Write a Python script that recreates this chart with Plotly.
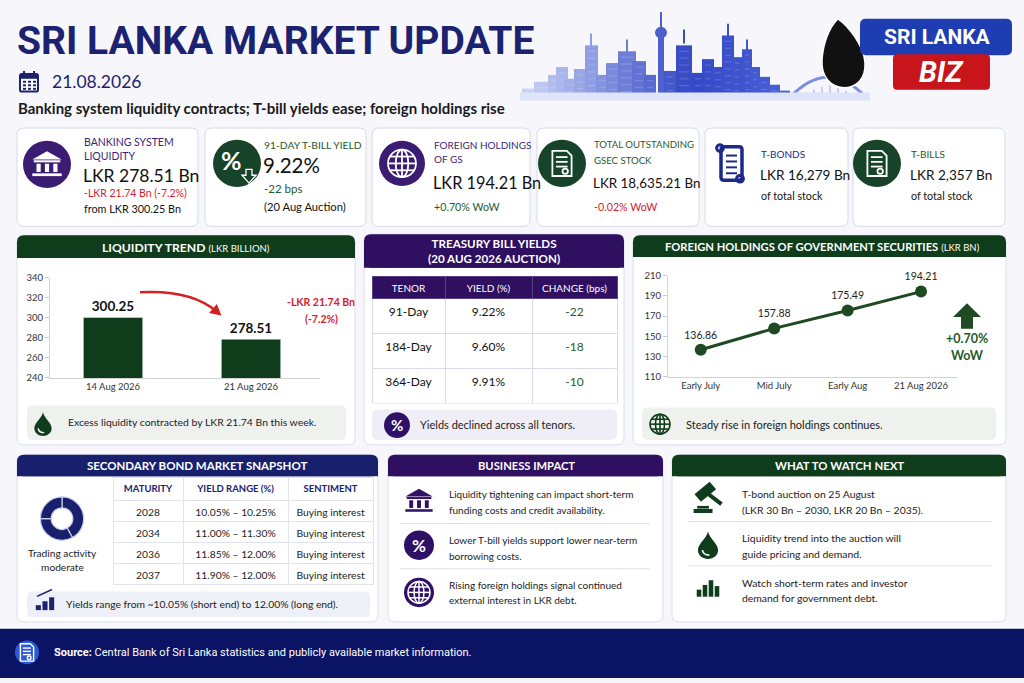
import math
import plotly.graph_objects as go

W, H = 1024, 683

# ---- data ----
liq_dates = ['14 Aug 2026', '21 Aug 2026']
liq_values = [300.25, 278.51]

tenors = ['91-Day', '184-Day', '364-Day']
tbill_yields = ['9.22%', '9.60%', '9.91%']
tbill_change = ['-22', '-18', '-10']

fh_periods = ['Early July', 'Mid July', 'Early Aug', '21 Aug 2026']
fh_values = [136.86, 157.88, 175.49, 194.21]

bond_maturity = ['2028', '2034', '2036', '2037']
bond_range = ['10.05% – 10.25%', '11.00% – 11.30%', '11.85% – 12.00%', '11.90% – 12.00%']
bond_sentiment = ['Buying interest', 'Buying interest', 'Buying interest', 'Buying interest']
activity_split = [42, 33, 25]

NAVY = '#1b2270'
PURPLE = '#2e0f60'
GREEN = '#0f3d1c'
LGREEN = '#1f5a2a'
RED = '#d3222a'
BODY = "Lato, 'Open Sans', sans-serif"
HEAD = "Roboto, Lato, sans-serif"
NB = '\u00a0'   # keeps table cells on one line


def X(px):
    return px / W


def Y(py):
    return 1 - py / H


shapes = []
ann = []
NONE = 'rgba(0,0,0,0)'


def box(x0, y0, x1, y1, fill, line=None, lw=0, r=0):
    if r == 0:
        shapes.append(dict(type='rect', xref='paper', yref='paper', x0=X(x0), x1=X(x1),
                           y0=Y(y1), y1=Y(y0), fillcolor=fill or NONE,
                           line=dict(color=line or NONE, width=lw), layer='below'))
        return
    p = lambda x, y: f'{X(x):.5f},{Y(y):.5f}'
    d = (f'M{p(x0 + r, y0)} L{p(x1 - r, y0)} Q{p(x1, y0)} {p(x1, y0 + r)} '
         f'L{p(x1, y1 - r)} Q{p(x1, y1)} {p(x1 - r, y1)} L{p(x0 + r, y1)} '
         f'Q{p(x0, y1)} {p(x0, y1 - r)} L{p(x0, y0 + r)} Q{p(x0, y0)} {p(x0 + r, y0)} Z')
    shapes.append(dict(type='path', xref='paper', yref='paper', path=d, fillcolor=fill or NONE,
                       line=dict(color=line or NONE, width=lw), layer='below'))


def path(cmds, fill=None, line=None, lw=0, close=True):
    d = ''
    for c, pts in cmds:
        d += c + ' '.join(f'{X(x):.5f},{Y(y):.5f}' for x, y in pts) + ' '
    if close:
        d += 'Z'
    shapes.append(dict(type='path', xref='paper', yref='paper', path=d, fillcolor=fill or NONE,
                       line=dict(color=line or NONE, width=lw), layer='below'))


def poly(pts, fill=None, line=None, lw=0, close=True):
    path([('M', [pts[0]])] + [('L', [q]) for q in pts[1:]], fill, line, lw, close)


def dot(cx, cy, r, fill=None, line=None, lw=0, ry=None):
    ry = ry or r
    shapes.append(dict(type='circle', xref='paper', yref='paper', x0=X(cx - r), x1=X(cx + r),
                       y0=Y(cy + ry), y1=Y(cy - ry), fillcolor=fill or NONE,
                       line=dict(color=line or NONE, width=lw), layer='below'))


def seg(x0, y0, x1, y1, color, w=1):
    shapes.append(dict(type='line', xref='paper', yref='paper', x0=X(x0), x1=X(x1),
                       y0=Y(y0), y1=Y(y1), line=dict(color=color, width=w), layer='below'))


def txt(x, y, s, size=12, color='#111', anchor='left', family=BODY):
    ann.append(dict(x=X(x), y=Y(y), xref='paper', yref='paper', text=s, showarrow=False,
                    xanchor=anchor, yanchor='middle', borderpad=0,
                    font=dict(size=size, color=color, family=family)))


# ---- icons ----
def bank(cx, cy, s, c):
    poly([(cx - 1.05 * s, cy - 0.35 * s), (cx, cy - 0.95 * s), (cx + 1.05 * s, cy - 0.35 * s)], c)
    box(cx - 0.95 * s, cy - 0.3 * s, cx + 0.95 * s, cy - 0.15 * s, c)
    for dx in (-0.6, 0, 0.6):
        box(cx + dx * s - 0.15 * s, cy - 0.05 * s, cx + dx * s + 0.15 * s, cy + 0.55 * s, c)
    box(cx - 1.05 * s, cy + 0.65 * s, cx + 1.05 * s, cy + 0.85 * s, c)


def globe(cx, cy, r, c, lw=1.6):
    dot(cx, cy, r, None, c, lw)
    dot(cx, cy, 0.45 * r, None, c, lw, ry=r)
    seg(cx - r, cy, cx + r, cy, c, lw)
    seg(cx, cy - r, cx, cy + r, c, lw)
    seg(cx - 0.86 * r, cy - 0.5 * r, cx + 0.86 * r, cy - 0.5 * r, c, lw)
    seg(cx - 0.86 * r, cy + 0.5 * r, cx + 0.86 * r, cy + 0.5 * r, c, lw)


def doc(cx, cy, s, c, lw=1.8):
    poly([(cx - 0.6 * s, cy - 0.8 * s), (cx + 0.3 * s, cy - 0.8 * s), (cx + 0.6 * s, cy - 0.5 * s),
          (cx + 0.6 * s, cy + 0.8 * s), (cx - 0.6 * s, cy + 0.8 * s)], None, c, lw)
    for dy in (-0.4, -0.1, 0.2):
        seg(cx - 0.38 * s, cy + dy * s, cx + 0.35 * s, cy + dy * s, c, lw)
    dot(cx + 0.2 * s, cy + 0.5 * s, 0.17 * s, None, c, lw)


def scroll(cx, cy, s, c):
    box(cx - 0.5 * s, cy - 0.85 * s, cx + 0.55 * s, cy + 0.85 * s, None, c, 3.5, r=3)
    dot(cx - 0.55 * s, cy - 0.78 * s, 0.17 * s, None, c, 3)
    dot(cx + 0.45 * s, cy + 0.78 * s, 0.17 * s, None, c, 3)
    for dy in (-0.4, -0.1, 0.2, 0.5):
        seg(cx - 0.25 * s, cy + dy * s, cx + 0.3 * s, cy + dy * s, c, 2)


def drop(cx, cy, s, c):
    path([('M', [(cx, cy - s)]),
          ('C', [(cx + 0.1 * s, cy - 0.5 * s), (cx + 0.72 * s, cy - 0.1 * s), (cx + 0.72 * s, cy + 0.35 * s)]),
          ('C', [(cx + 0.72 * s, cy + 0.75 * s), (cx + 0.38 * s, cy + s), (cx, cy + s)]),
          ('C', [(cx - 0.38 * s, cy + s), (cx - 0.72 * s, cy + 0.75 * s), (cx - 0.72 * s, cy + 0.35 * s)]),
          ('C', [(cx - 0.72 * s, cy - 0.1 * s), (cx - 0.1 * s, cy - 0.5 * s), (cx, cy - s)])], c)
    path([('M', [(cx - 0.4 * s, cy + 0.35 * s)]),
          ('Q', [(cx - 0.35 * s, cy + 0.72 * s), (cx + 0.1 * s, cy + 0.72 * s)])],
         None, 'white', max(1.2, s * 0.12), close=False)


def pct_badge(cx, cy, r, fill, size):
    dot(cx, cy, r, fill)
    txt(cx, cy, '<b>%</b>', size, 'white', 'center')


def bars_icon(cx, cy, s, c, hs=(0.5, 0.8, 1.2, 0.8)):
    n = len(hs)
    w = 2 * s / n
    for i, h in enumerate(hs):
        x0 = cx - s + i * w
        box(x0 + 0.12 * w, cy + 0.7 * s - h * s, x0 + w - 0.12 * w, cy + 0.7 * s, c)


def gavel(cx, cy, s, c):
    a = math.radians(-40)
    hx, hy = cx - 0.15 * s, cy - 0.35 * s
    L, T = 0.55 * s, 0.28 * s
    ux, uy = math.cos(a), math.sin(a)
    vx, vy = -uy, ux
    pts = [(hx + ux * L * sx + vx * T * sy, hy + uy * L * sx + vy * T * sy)
           for sx, sy in ((-1, -1), (1, -1), (1, 1), (-1, 1))]
    poly(pts, c)
    seg(hx, hy, cx + 0.75 * s, cy + 0.35 * s, c, 4)
    box(cx - 0.8 * s, cy + 0.62 * s, cx + 0.25 * s, cy + 0.85 * s, c)
    box(cx - 0.6 * s, cy + 0.45 * s, cx + 0.05 * s, cy + 0.6 * s, c)


def panel(x0, y0, x1, y1, hy, hc):
    box(x0, y0, x1, y1, 'white', '#dcdfeb', 1, r=7)
    box(x0, y0, x1, hy, hc, r=7)
    box(x0, y0 + 8, x1, hy, hc)


# ---- header ----
txt(16, 36, '<b>SRI LANKA MARKET UPDATE</b>', 39, NAVY, family=HEAD)
box(20, 69, 38, 87, 'white', NAVY, 2, r=2)
box(20, 69, 38, 74, NAVY)
for i in range(3):
    for j in range(3):
        box(23 + i * 5, 76 + j * 3.6, 26 + i * 5, 78 + j * 3.6, NAVY)
seg(24, 66, 24, 71, NAVY, 2)
seg(34, 66, 34, 71, NAVY, 2)
txt(51, 77, '21.08.2026', 17.5, NAVY)
txt(17, 104, '<b>Banking system liquidity contracts; T-bill yields ease; foreign holdings rise</b>', 15, '#1a1a1a')


def blend(c1, c2, t):
    a = [int(c1[i:i + 2], 16) for i in (1, 3, 5)]
    b = [int(c2[i:i + 2], 16) for i in (1, 3, 5)]
    return '#' + ''.join(f'{round(a[k] + (b[k] - a[k]) * t):02x}' for k in range(3))


def sky_col(x):
    if x < 690:
        return blend('#d3dbf7', '#3247c4', max(0, (x - 520) / 170))
    if x < 790:
        return blend('#3247c4', '#4a62d8', (x - 690) / 100)
    return blend('#4a62d8', '#c3cef5', min(1, (x - 790) / 70))


buildings = [(522, 540, 84), (534, 552, 77), (548, 562, 70), (556, 568, 62), (564, 578, 74),
             (574, 586, 64), (585, 598, 40), (596, 610, 70), (606, 620, 58), (618, 636, 46),
             (632, 646, 56), (644, 656, 70), (664, 676, 66), (676, 692, 40), (692, 704, 68),
             (702, 714, 54), (712, 724, 62), (722, 734, 30), (732, 742, 52), (742, 752, 44),
             (750, 760, 62), (758, 770, 72), (768, 780, 80), (778, 790, 86)]
for bx0, bx1, top in buildings:
    box(bx0, top, bx1, 94, sky_col((bx0 + bx1) / 2))
    for wy in range(top + 6, 88, 7):
        seg(bx0 + 3, wy, bx1 - 3, wy, blend(sky_col((bx0 + bx1) / 2), '#ffffff', 0.25), 0.8)
for sx, top in ((591, 28), (627, 34), (684, 24), (728, 18), (747, 34)):
    seg(sx, top, sx, top + 14, sky_col(sx), 2)
box(658, 30, 664, 94, sky_col(661))
seg(661, 6, 661, 30, sky_col(661), 2)
dot(661, 27, 6, sky_col(661))
path([('M', [(790, 93)]), ('Q', [(828, 52), (866, 93)])], None, '#7b8fe3', 3, close=False)
for bxx in range(798, 862, 8):
    seg(bxx, 93, bxx, 80 + abs(bxx - 828) * 0.35, '#93a3ea', 1)
box(520, 88, 870, 96, '#dfe5f9')

# logo
path([('M', [(838, 13)]), ('C', [(848, 20), (864, 40), (865, 58)]),
      ('C', [(866, 74), (856, 83), (845, 83)]), ('C', [(831, 83), (821, 72), (822, 55)]),
      ('C', [(823, 38), (829, 22), (838, 13)])], '#111111', '#ffffff', 1.5)
box(860, 13, 1012, 50, '#1f3db2', r=6)
txt(937, 31, '<b>SRI LANKA</b>', 21, 'white', 'center', HEAD)
box(893, 49, 990, 85, '#c8141b', r=4)
txt(941, 67, '<b><i>BIZ</i></b>', 29, 'white', 'center', HEAD)

# ---- KPI cards ----
cards = [(17, 198), (205, 366), (372, 530), (537, 699), (705, 848), (853, 1005)]
for cx0, cx1 in cards:
    box(cx0, 124, cx1, 224, 'white', '#d6dae9', 1, r=7)

dot(47, 161, 24, '#3a1c72')
bank(47, 161, 14, 'white')
txt(83, 138, 'BANKING SYSTEM', 10.5, '#3b1f7a')
txt(83, 152, 'LIQUIDITY', 10.5, '#3b1f7a')
txt(82, 172, 'LKR 278.51 Bn', 17.5, '#111')
txt(83, 190, '-LKR 21.74 Bn (-7.2%)', 10.5, RED)
txt(83, 206, 'from LKR 300.25 Bn', 10.8, '#111')

dot(237, 160, 24, '#17432a')
txt(231, 157, '<b>%</b>', 25, 'white', 'center')
poly([(246, 166), (252, 166), (252, 172), (256, 172), (249, 180), (242, 172), (246, 172)], None, 'white', 1.3)
txt(263, 141, '91-DAY T-BILL YIELD', 10.3, LGREEN)
txt(262, 162, '9.22%', 20.5, '#111')
txt(263, 185, '-22 bps', 11.5, LGREEN)
txt(263, 204, '(20 Aug Auction)', 11.2, '#111')

dot(402, 160, 23, '#3a1c72')
globe(402, 160, 14, 'white', 1.8)
txt(433, 141, 'FOREIGN HOLDINGS', 10, '#3b1f7a')
txt(433, 156, 'OF GS', 10, '#3b1f7a')
txt(432, 179, 'LKR 194.21 Bn', 16.3, '#111')
txt(433, 204, '+0.70% WoW', 10.7, LGREEN)

dot(562, 160, 24, '#17432a')
doc(562, 160, 16, 'white')
txt(593, 141, 'TOTAL OUTSTANDING', 9.6, LGREEN)
txt(593, 157, 'GSEC STOCK', 9.6, LGREEN)
txt(592, 180, 'LKR 18,635.21 Bn', 13.4, '#111')
txt(593, 204, '-0.02% WoW', 10.7, RED)

scroll(731, 160, 20, '#1b2a8a')
txt(760, 150, 'T-BONDS', 10, '#1b2a8a')
txt(759, 172, 'LKR 16,279 Bn', 13.6, '#111')
txt(760, 193, 'of total stock', 10.7, '#111')

dot(877, 160, 24, '#17432a')
doc(877, 160, 16, 'white')
txt(910, 150, 'T-BILLS', 10, LGREEN)
txt(909, 172, 'LKR 2,357 Bn', 13.6, '#111')
txt(910, 193, 'of total stock', 10.7, '#111')

# ---- middle panels ----
panel(17, 233, 355, 446, 256, GREEN)
txt(186, 245, '<b>LIQUIDITY TREND</b> <span style="font-size:9.5px">(LKR BILLION)</span>', 12.2, 'white', 'center')
box(27, 406, 346, 441, '#eef1ee', r=6)
drop(43, 425, 12, GREEN)
txt(67, 423, 'Excess liquidity contracted by LKR 21.74 Bn this week.', 10.4, '#222')

change = liq_values[1] - liq_values[0]
txt(321, 301, f'<b>-LKR {abs(change):.2f} Bn</b>', 10.5, RED, 'center')
txt(321, 318, f'<b>({change / liq_values[0] * 100:.1f}%)</b>', 10.5, RED, 'center')
p0, pc, p1 = (140, 291), (190, 288), (216, 310)
path([('M', [p0]), ('Q', [pc, p1])], None, '#d4201f', 2.5, close=False)
dx, dy = p1[0] - pc[0], p1[1] - pc[1]
n = (dx * dx + dy * dy) ** 0.5
ux, uy = dx / n, dy / n
tip = (p1[0] + 7 * ux, p1[1] + 7 * uy)
bc = (p1[0] - 4 * ux, p1[1] - 4 * uy)
poly([tip, (bc[0] - 6 * uy, bc[1] + 6 * ux), (bc[0] + 6 * uy, bc[1] - 6 * ux)], '#d4201f')

panel(364, 232, 624, 446, 266, PURPLE)
txt(494, 249.5, '<b>TREASURY BILL YIELDS<br>(20 AUG 2026 AUCTION)</b>', 11.6, 'white', 'center')
box(372, 410, 617, 441, '#efeef6', r=6)
pct_badge(397, 426, 13, '#2e1166', 15)
txt(419, 425, 'Yields declined across all tenors.', 11, '#222')

panel(633, 233, 1006, 446, 255, GREEN)
txt(822, 244, '<b>FOREIGN HOLDINGS OF GOVERNMENT SECURITIES</b> <span style="font-size:9.5px">(LKR BN)</span>',
    11.2, 'white', 'center')
poly([(967, 302), (981, 316), (973, 316), (973, 328), (961, 328), (961, 316), (953, 316)], '#1f4a22')
txt(967, 338, '<b>+0.70%</b>', 12.5, LGREEN, 'center')
txt(967, 355, '<b>WoW</b>', 12.5, LGREEN, 'center')
box(642, 408, 996, 441, '#eef1ee', r=6)
globe(660, 425, 10, GREEN, 1.6)
txt(685, 425, 'Steady rise in foreign holdings continues.', 11, '#222')

# ---- bottom panels ----
panel(17, 456, 378, 626, 478, '#18206e')
txt(197, 467, '<b>SECONDARY BOND MARKET SNAPSHOT</b>', 11.5, 'white', 'center')
txt(62, 556, 'Trading activity', 10.2, '#222', 'center')
txt(62, 570, 'moderate', 10.2, '#222', 'center')
box(27, 595, 370, 621, '#eef0f8', r=5)
bars_icon(45, 607, 10, NAVY, (0.5, 0.9, 1.3))
seg(37, 600, 52, 593, NAVY, 1.5)
txt(65, 608, 'Yields range from ~10.05% (short end) to 12.00% (long end).', 10.3, '#222')

panel(388, 456, 663, 626, 478, PURPLE)
txt(526, 467, '<b>BUSINESS IMPACT</b>', 11.2, 'white', 'center')
bank(419, 503, 13, '#2e1166')
pct_badge(419, 548, 15, '#2e1166', 17)
dot(419, 596, 15, '#2e1166')
globe(419, 596, 11, 'white', 1.5)
seg(400, 526, 650, 526, '#dde3ef', 1)
seg(400, 572, 650, 572, '#dde3ef', 1)
biz_lines = [('Liquidity tightening can impact short-term', 'funding costs and credit availability.', 496),
             ('Lower T-bill yields support lower near-term', 'borrowing costs.', 543),
             ('Rising foreign holdings signal continued', 'external interest in LKR debt.', 588)]
for a, b, yy in biz_lines:
    txt(448, yy, a, 10, '#222')
    txt(448, yy + 16, b, 10, '#222')

panel(672, 456, 1006, 626, 478, GREEN)
txt(839, 467, '<b>WHAT TO WATCH NEXT</b>', 11.4, 'white', 'center')
gavel(708, 500, 18, GREEN)
drop(708, 548, 14, GREEN)
bars_icon(708, 592, 12, GREEN, (0.6, 1.0, 1.4, 0.9))
seg(688, 524, 992, 524, '#dde3ef', 1)
seg(688, 569, 992, 569, '#dde3ef', 1)
watch_lines = [('T-bond auction on 25 August', '(LKR 30 Bn – 2030, LKR 20 Bn – 2035).', 496),
               ('Liquidity trend into the auction will', 'guide pricing and demand.', 541),
               ('Watch short-term rates and investor', 'demand for government debt.', 586)]
for a, b, yy in watch_lines:
    txt(741, yy, a, 10.4, '#222')
    txt(741, yy + 16, b, 10.4, '#222')

# ---- footer ----
box(0, 633, 1024, 683, '#0b1464')
dot(27, 657, 12, '#2f58d8')
doc(27, 657, 11, 'white', 1.4)
txt(53, 657, '<b>Source:</b> Central Bank of Sri Lanka statistics and publicly available market information.',
    11, 'white', family=HEAD)

# ---- traces ----
fig = go.Figure()

fig.add_trace(go.Bar(x=liq_dates, y=liq_values, marker_color=GREEN, width=0.43,
                     texttemplate='<b>%{y:.2f}</b>', textposition='outside',
                     textfont=dict(size=13.5, color='#111', family=BODY), cliponaxis=False,
                     xaxis='x', yaxis='y', hoverinfo='skip'))

fig.add_trace(go.Scatter(x=fh_periods, y=fh_values, mode='lines+markers+text',
                         line=dict(color='#1e4a22', width=3), marker=dict(size=12, color='#1e4a22'),
                         text=[f'{v:.2f}' for v in fh_values], textposition='top center',
                         textfont=dict(size=10.5, color='#222', family=BODY), cliponaxis=False,
                         xaxis='x2', yaxis='y2', hoverinfo='skip'))


def nb(values):
    return [v.replace(' ', NB) for v in values]


fig.add_trace(go.Table(
    domain=dict(x=[X(372), X(617)], y=[Y(405), Y(275)]),
    columnwidth=[73, 87, 85],
    header=dict(values=nb(['TENOR', 'YIELD (%)', 'CHANGE (bps)']), fill_color=PURPLE, align='center',
                font=dict(color='white', size=10, family=BODY), height=22,
                line=dict(color='#5b4188', width=1)),
    cells=dict(values=[tenors, tbill_yields, tbill_change], fill_color='white', align='center',
               font=dict(color=['#111', '#111', LGREEN], size=12, family=BODY), height=35,
               line=dict(color='#dadbe8', width=1))))

fig.add_trace(go.Table(
    domain=dict(x=[X(113), X(373)], y=[Y(589), Y(479)]),
    columnwidth=[70, 105, 85],
    header=dict(values=nb(['MATURITY', 'YIELD RANGE (%)', 'SENTIMENT']),
                fill_color='white', align='center',
                font=dict(color=NAVY, size=9.5, family=BODY, weight='bold'),
                height=23, line=dict(color='#e1e4ef', width=1)),
    cells=dict(values=[bond_maturity, nb(bond_range), nb(bond_sentiment)], fill_color='white', align='center',
               font=dict(color='#222', size=10.3, family=BODY), height=21,
               line=dict(color='#e1e4ef', width=1))))

fig.add_trace(go.Pie(values=activity_split, hole=0.5, sort=False, direction='clockwise', rotation=0,
                     marker=dict(colors=['#18206e', '#18206e', '#18206e'], line=dict(color='#c9cde6', width=1.2)),
                     textinfo='none', hoverinfo='skip', showlegend=False,
                     domain=dict(x=[X(40), X(84)], y=[Y(543), Y(499)])))

axis_common = dict(showgrid=False, zeroline=False, showline=True, linecolor='#d3d3d3', fixedrange=True)
fig.update_layout(
    width=W, height=H, autosize=False, margin=dict(l=0, r=0, t=0, b=0),
    paper_bgcolor='#f7f7fb', plot_bgcolor='rgba(0,0,0,0)', showlegend=False,
    font=dict(family=BODY, color='#222'),
    xaxis=dict(domain=[X(50), X(320)], range=[-0.457, 1.5], anchor='y',
               tickfont=dict(size=9.5, color='#333'), **axis_common),
    yaxis=dict(domain=[Y(378), Y(276)], range=[240, 340], dtick=20, tick0=240, anchor='x',
               ticks='outside', ticklen=4, tickcolor='#cccccc',
               tickfont=dict(size=9.5, color='#333'), **axis_common),
    xaxis2=dict(domain=[X(668), X(957)], range=[-0.446, 3.49], anchor='y2',
                tickfont=dict(size=9.5, color='#333'), **axis_common),
    yaxis2=dict(domain=[Y(377), Y(274)], range=[110, 210], dtick=20, tick0=110, anchor='x2',
                ticks='outside', ticklen=4, tickcolor='#cccccc',
                tickfont=dict(size=9.5, color='#333'), **axis_common),
    shapes=shapes, annotations=ann,
)

fig.write_html('out.html', config={'displayModeBar': False},
               post_script="document.body.style.margin='0';document.body.style.overflow='hidden';")
